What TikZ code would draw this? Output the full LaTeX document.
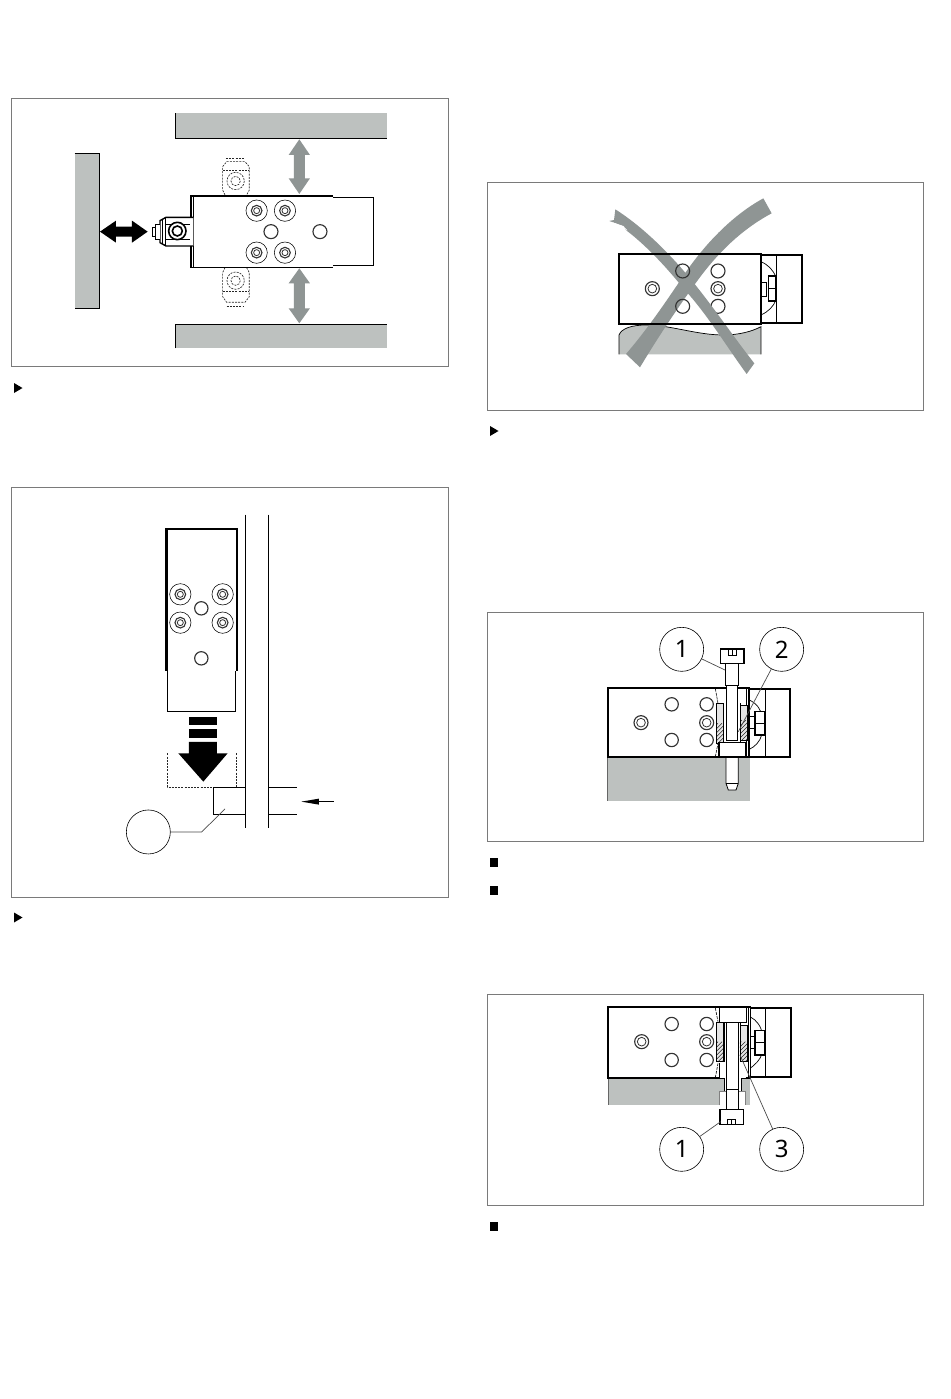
\documentclass[tikz,border=0pt]{standalone}
\usepackage{fontspec}
\setmainfont{Noto Sans}
\definecolor{wall}{HTML}{BDC1BF}
\definecolor{arr}{HTML}{8F9594}
\definecolor{frm}{HTML}{7A7A7A}
\newcommand{\zhole}[3]{\draw[line width=1.15pt,draw=black!80,fill=white] (#1,#2) circle[radius=#3];}
\newcommand{\zring}[3]{\draw[line width=1.15pt,draw=black!80] (#1,#2) circle[radius=#3];}
\newcommand{\zdouble}[3]{\draw[line width=1.15pt,draw=black!80,fill=white] (#1,#2) circle[radius=#3];\draw[line width=.8pt,draw=black!80] (#1,#2) circle[radius=#3*.62];}
\newcommand{\zbolt}[2]{\draw[line width=.55pt,fill=white] (#1,#2) circle[radius=32];\draw[line width=1.1pt,draw=black!80] (#1,#2) circle[radius=16];\draw[line width=.8pt,draw=black!80] (#1,#2) circle[radius=9];}
\newcommand{\zhatch}[4]{\begin{scope}\clip (#1,#2) rectangle (#3,#4);\fill[black!10] (#1,#2) rectangle (#3,#4);\foreach \k in {-140,-128,...,160}{\draw[line width=.5pt,black!85] (#1+\k,#4) -- ++(60,-60);}\end{scope}\draw[line width=.6pt] (#1,#2) rectangle (#3,#4);}
\tikzset{
 frame/.style={draw=frm,line width=.9pt},
 thick block/.style={draw=black,line width=1.7pt,fill=white},
 thin block/.style={draw=black,line width=1.3pt,fill=white},
 numc/.style={circle,draw=black,line width=.6pt,fill=white,minimum size=44pt,inner sep=0pt,font=\fontsize{24}{24}\selectfont},
 leader/.style={draw=black!70,line width=.7pt},
 zoomed/.style={x=.3333pt,y=-.3333pt},
 dash box/.style={draw=black!85,line width=.65pt,dash pattern=on 2pt off 1.2pt},
}
\begin{document}
\begin{tikzpicture}[x=1pt,y=-1pt]
\useasboundingbox (0,0) rectangle (950,1399);
\fill[white] (0,0) rectangle (950,1399);
% frames
\draw[frame] (11.5,98.5) rectangle (448.5,366.5);
\draw[frame] (11.5,487.5) rectangle (448.5,897.5);
\draw[frame] (487.5,182.5) rectangle (923.5,410.5);
\draw[frame] (487.5,612.5) rectangle (923.5,841.5);
\draw[frame] (487.5,994.5) rectangle (923.5,1205.5);
% bullets
\fill (14,383) -- (22.5,388) -- (14,393) -- cycle;
\fill (14,912.5) -- (22.5,917.5) -- (14,922.5) -- cycle;
\fill (490,426) -- (498.5,431) -- (490,436) -- cycle;
\fill (489.5,858) rectangle (497.5,867);
\fill (489.5,886) rectangle (497.5,895);
\fill (489.5,1222) rectangle (497.5,1231);

% ---------- panel 1
\begin{scope}[shift={(60,100)},zoomed]
\fill[wall] (345,40) rectangle (980,115);
\draw[line width=.9pt] (345,40) -- (345,115) -- (980,115);
\fill[wall] (345,672) rectangle (980,745);
\draw[line width=.9pt] (345,745) -- (345,672) -- (980,672);
\fill[wall] (44,160) rectangle (118,625);
\draw[line width=.9pt] (44,160) -- (118,160) -- (118,625) -- (44,625);
% arrows
\fill[arr] (718,118) -- (750,165) -- (735,165) -- (735,235) -- (750,235) -- (718,282) -- (686,235) -- (702,235) -- (702,165) -- (686,165) -- cycle;
\fill[arr] (718,505) -- (750,550) -- (735,550) -- (735,625) -- (750,625) -- (718,670) -- (686,625) -- (702,625) -- (702,550) -- (686,550) -- cycle;
\fill (120,395) -- (168,362) -- (168,380) -- (216,380) -- (216,362) -- (263,395) -- (216,428) -- (216,410) -- (168,410) -- (168,428) -- cycle;
% dashed bolts
\draw[dash box] (495,285) -- (488,270) -- (488,200) -- (500,185) -- (555,185) -- (568,200) -- (568,270) -- (560,285);
\draw[dash box] (488,212) -- (568,212);
\draw[dash box] (498,175) -- (555,175);
\draw[dash box] (527,243) circle[radius=26];
\draw[dash box] (527,243) circle[radius=14];
\draw[dash box] (495,503) -- (488,518) -- (488,590) -- (500,607) -- (555,607) -- (568,590) -- (568,518) -- (560,503);
\draw[dash box] (488,575) -- (568,575);
\draw[dash box] (500,618) -- (552,618);
\draw[dash box] (527,542) circle[radius=26];
\draw[dash box] (527,542) circle[radius=14];
% block
\draw[thin block] (400,292) rectangle (940,497);
\draw[thick block] (820,287) -- (392,287) -- (392,503) -- (820,503);
\draw[line width=.6pt] (400,287) -- (400,503);
\zbolt{590}{332}\zbolt{675}{332}\zbolt{590}{458}\zbolt{675}{458}
\zhole{633}{395}{21}\zhole{780}{395}{21}
% valve
\fill[white] (286,352) rectangle (400,438);
\draw[line width=1.4pt,fill=white] (400,352) -- (318,352) -- (300,362) -- (300,428) -- (318,438) -- (400,438);
\draw[line width=1pt] (318,352) -- (318,438);
\draw[line width=.8pt] (308,357) -- (308,433);
\draw[line width=.7pt] (318,372) -- (390,372);
\draw[line width=.7pt] (318,418) -- (390,418);
\draw[line width=.9pt,fill=white] (300,372) -- (286,372) -- (286,418) -- (300,418);
\draw[line width=.9pt,fill=white] (286,382) rectangle (278,408);
\draw[line width=1.6pt,fill=white] (352,393) circle[radius=26];
\draw[line width=1.6pt] (352,393) circle[radius=15];
\end{scope}

% ---------- panel 2
\begin{scope}[shift={(110,510)},zoomed]
\draw[line width=1pt,fill=white] (173,483) -- (173,604) -- (378,604) -- (378,483);
\draw[thick block,fill=none] (168,483) -- (168,58) -- (381,58) -- (381,483);
\draw[line width=.6pt] (173,58) -- (173,483);
\draw[line width=.6pt] (378,58) -- (378,483);
\zbolt{211}{253}\zbolt{338}{253}\zbolt{211}{338}\zbolt{338}{338}
\zhole{274}{295}{20}\zhole{274}{445}{20}
\draw[line width=.9pt] (406,14) -- (406,955);
\draw[line width=.9pt] (475,14) -- (475,955);
\draw[dash box] (172,730) -- (172,832) -- (310,832);
\draw[dash box] (379,730) -- (379,832);
\draw[line width=.9pt] (406,832) -- (310,832) -- (310,913) -- (406,913);
\draw[line width=.9pt] (475,832) -- (560,832);
\draw[line width=.9pt] (475,913) -- (560,913);
\fill (237,622) rectangle (321,645);
\fill (237,657) rectangle (321,683);
\fill (237,696) -- (321,696) -- (321,730) -- (353,730) -- (280,815) -- (205,730) -- (237,730) -- cycle;
\coordinate (ai) at (672,875);
\coordinate (ao) at (574,875);
\draw[line width=.8pt] (ai) -- (620,875);
\fill (ao) -- (627,866) -- (627,884) -- cycle;
\node[circle,draw=black,line width=.6pt,fill=white,minimum size=44pt,inner sep=0pt] (cx) at (115,966) {};
\coordinate (lk) at (275,966);
\coordinate (lend) at (345,897);
\draw[leader] (cx) -- (lk) -- (lend);
\end{scope}

% ---------- panel 3
\begin{scope}[shift={(590,190)},zoomed]
\fill[wall] (87,493) -- (87,435) .. controls (95,415) and (125,405) .. (170,405) .. controls (240,405) and (320,435) .. (400,435) .. controls (445,435) and (485,425) .. (513,410) -- (513,493) -- cycle;
\draw[line width=.7pt] (87,493) -- (87,435) .. controls (95,415) and (125,405) .. (170,405) .. controls (240,405) and (320,435) .. (400,435) .. controls (445,435) and (485,425) .. (513,410) -- (513,493);
\draw[line width=1.7pt,fill=white] (513,195) rectangle (635,398);
\draw[line width=1pt] (560,195) -- (560,398);
\draw[line width=.7pt] (513,215) .. controls (535,225) and (550,240) .. (558,262);
\draw[line width=.7pt] (558,330) .. controls (550,350) and (535,365) .. (513,375);
\draw[line width=.9pt,fill=white] (513,278) rectangle (530,318);
\draw[line width=1.2pt,fill=white] (535,258) rectangle (558,333);
\draw[line width=.8pt] (535,296) -- (558,296);
\fill[white] (88,193.5) rectangle (512,401.5);
\zdouble{187}{296}{21}\zhole{384}{243}{21}\zdouble{384}{296}{21}\zhole{384}{349}{21}
% X
\fill[arr] (76,58) .. controls (150,105) and (230,180) .. (300,265) .. controls (370,350) and (430,440) .. (493,520) -- (470,552) .. controls (410,470) and (350,370) .. (280,295) .. controls (220,220) and (160,160) .. (110,122) -- (98,108) -- (58,93) -- (72,90) -- cycle;
\fill[white] (62,95) -- (100,108) -- (112,121) -- cycle;
\fill[arr] (520,25) -- (545,70) .. controls (470,110) and (400,170) .. (335,255) .. controls (275,335) and (205,440) .. (150,532) -- (108,492) .. controls (170,420) and (225,340) .. (285,250) .. controls (340,170) and (420,80) .. (520,25) -- cycle;
\zring{278}{243}{21}\zring{278}{349}{21}
\draw[thick block,fill=none] (87,192) rectangle (513,403);
\end{scope}

% ---------- panel 4
\begin{scope}[shift={(600,620)},zoomed]
\fill[wall] (23,415) rectangle (450,543);
\draw[line width=.5pt,draw=black!60] (23,415) -- (23,543);
\draw[line width=1.7pt,fill=white] (448,207) rectangle (570,411);
\draw[line width=1pt] (497,207) -- (497,411);
\draw[line width=.7pt] (448,240) .. controls (470,250) and (485,270) .. (485,290);
\draw[line width=.7pt] (485,345) .. controls (480,365) and (465,380) .. (448,388);
\draw[line width=.9pt,fill=white] (448,288) rectangle (465,325);
\draw[line width=1.1pt,fill=white] (465,275) rectangle (495,345);
\draw[line width=.8pt] (465,310) -- (495,310);
\draw[thick block] (23,204) rectangle (448,412);
\zdouble{123}{308}{21}\zhole{215}{253}{20}\zhole{215}{360}{20}\zhole{320}{253}{20}\zdouble{320}{308}{21}\zhole{320}{360}{20}
% insert
\fill[white] (346,206) rectangle (447,410);
\draw[line width=.6pt,dash pattern=on 3pt off 1pt] (346,206) -- (354,250);
\draw[line width=.6pt,dash pattern=on 3pt off 1pt] (346,410) -- (354,370);
\draw[line width=.8pt] (438,206) -- (438,410);
\draw[line width=.8pt] (445,206) -- (445,410);
\zhatch{350}{250}{370}{370}
\zhatch{422}{255}{443}{360}
\draw[line width=1.6pt] (371,250) -- (371,368);
\draw[line width=1.6pt] (421,250) -- (421,368);
\draw[line width=.8pt,fill=white] (378,412) -- (378,490) -- (385,510) -- (408,510) -- (415,490) -- (415,412) -- cycle;
\draw[line width=.7pt] (378,490) -- (415,490);
\draw[line width=1.2pt,fill=white] (357,368) rectangle (437,412);
\draw[line width=1.1pt,fill=white] (380,195) rectangle (413,362);
\draw[line width=.8pt,fill=white] (376,130) rectangle (415,195);
\draw[line width=1.2pt,fill=white] (362,87) rectangle (432,130);
\draw[line width=.7pt] (385,88) -- (385,105) -- (410,105) -- (410,88);
\draw[line width=.7pt] (397,88) -- (397,105);
\draw[line width=1.7pt] (23,204) -- (346,204);
\draw[line width=1.7pt] (23,412) -- (448,412);
\node[numc] (n1) at (245,88) {1};
\node[numc] (n2) at (545,88) {2};
\coordinate (e1) at (375,150);
\coordinate (e2) at (415,335);
\draw[leader] (n1) -- (e1);
\draw[leader] (n2) -- (e2);
\end{scope}

% ---------- panel 5
\begin{scope}[shift={(600,1000)},zoomed]
\fill[wall] (25,238) rectangle (450,316);
\draw[line width=.5pt,draw=black!60] (25,238) -- (25,316);
\draw[line width=1.7pt,fill=white] (450,25) rectangle (573,232);
\draw[line width=1pt] (497,25) -- (497,232);
\draw[line width=.7pt] (450,50) .. controls (470,60) and (485,80) .. (487,105);
\draw[line width=.7pt] (487,160) .. controls (480,180) and (465,195) .. (450,205);
\draw[line width=.9pt,fill=white] (450,108) rectangle (465,145);
\draw[line width=1.1pt,fill=white] (465,92) rectangle (495,165);
\draw[line width=.8pt] (465,127) -- (495,127);
\draw[thick block] (23,22) rectangle (450,235);
\zdouble{125}{125}{21}\zhole{215}{72}{20}\zhole{215}{180}{20}\zhole{320}{72}{20}\zdouble{320}{125}{21}\zhole{320}{180}{20}
\fill[white] (346,24) rectangle (449,233);
\draw[line width=1.7pt] (23,22) -- (346,22);
\draw[line width=1.7pt] (23,235) -- (358,235);
\draw[line width=1.7pt] (437,22) -- (450,22);
\draw[line width=1.7pt] (437,235) -- (450,235);
\draw[line width=.6pt,dash pattern=on 3pt off 1pt] (346,24) -- (354,65);
\draw[line width=.6pt,dash pattern=on 3pt off 1pt] (346,233) -- (354,190);
\draw[line width=.8pt] (438,24) -- (438,70);
\draw[line width=.8pt] (445,24) -- (445,233);
\draw[line width=.8pt] (358,190) -- (358,235) -- (372,235);
\draw[line width=.8pt] (358,24) -- (358,68) -- (437,68);
\zhatch{350}{68}{372}{185}
\zhatch{420}{75}{443}{185}
\draw[line width=1.6pt] (371,68) -- (371,185);
\draw[line width=1.6pt] (421,68) -- (421,185);
\fill[white] (372,235) rectangle (425,275);
\draw[line width=.9pt] (372,235) -- (372,275);
\draw[line width=.9pt] (425,235) -- (425,275);
\fill[white] (358,275) rectangle (435,316);
\draw[line width=.5pt,draw=black!50] (358,316) -- (358,275) -- (435,275) -- (435,316);
\draw[line width=1.1pt,fill=white] (380,68) rectangle (415,328);
\draw[line width=.7pt] (380,268) -- (415,268);
\draw[line width=1.2pt,fill=white] (360,328) rectangle (430,373);
\draw[line width=.7pt] (383,373) -- (383,357) -- (407,357) -- (407,373);
\draw[line width=.7pt] (395,357) -- (395,373);
\node[numc] (n3) at (245,448) {1};
\node[numc] (n4) at (545,448) {3};
\coordinate (e3) at (362,365);
\coordinate (e4) at (420,165);
\draw[leader] (n3) -- (e3);
\draw[leader] (n4) -- (e4);
\end{scope}
\end{tikzpicture}
\end{document}
